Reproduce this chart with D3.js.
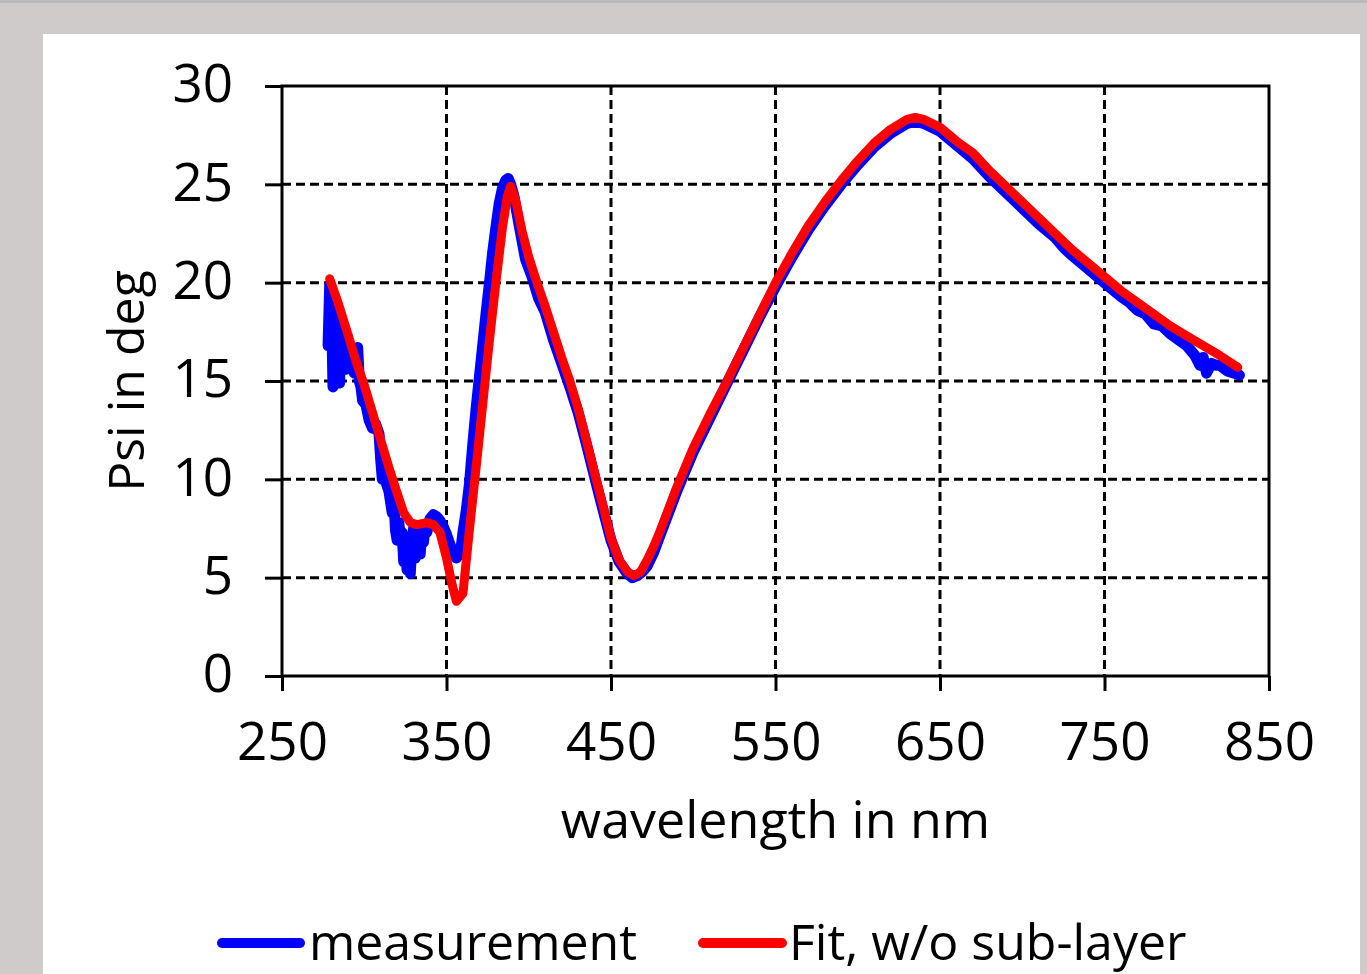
<!DOCTYPE html>
<html><head><meta charset="utf-8">
<script src="https://cdn.jsdelivr.net/npm/d3@7"></script>
<style>html,body{margin:0;padding:0;background:#cfcbca;}svg{display:block;}</style>
</head><body>
<svg id="c" width="1367" height="974"></svg>
<script>
// ---- data ----
const measWl = [278,279,279.5,280,281,282,283,284,285,286,287,288,289,290,291,292,293,294,295,296,297,298,299,301,303,305,307,309,310,311,312,313,315,317,318,319,320,321,322,323,324,325,326,327,328,329,330,331,332,333,334,335,336,337,338,340,342,344,346,348,350,352,354,356,358,359,360,362,364,366,368,370,372,374,376,378,380,382,384,386,387.5,389,391,394,398,402,406,410,415,420,425,430,435,441,445,450,455,460,463,466,469,472,476,480,485,490,495,500,510,520,530,540,550,560,570,580,590,600,610,620,630,635,640,650,660,670,680,690,700,710,720,725,730,740,750,760,765,770,775,780,785,790,795,800,805,808,810,812,815,818,820,825,829,832];
const measPsi = [16.8,19.9,17.9,19.2,14.7,18.0,18.6,15.5,14.9,18.1,16.0,17.2,15.6,16.5,16.7,15.8,16.3,15.4,16.4,16.7,15.0,14.7,14.0,13.8,13.0,12.6,12.8,12.3,11.0,10.0,10.6,9.9,9.4,8.3,9.0,7.4,6.9,7.8,7.0,7.3,5.8,7.0,5.4,6.6,5.2,6.9,7.5,6.0,6.3,7.2,6.2,7.3,6.8,7.6,7.3,8.0,8.2,8.1,7.9,7.6,7.2,6.7,6.3,6.0,6.2,6.6,7.3,8.4,9.8,11.8,13.6,15.2,16.8,18.4,19.9,21.5,22.8,24.0,24.8,25.2,25.3,25.0,24.4,23.0,21.2,20.3,19.2,18.5,17.1,15.9,14.7,13.4,11.8,9.8,8.5,6.9,5.8,5.2,5.0,5.1,5.3,5.6,6.3,7.2,8.3,9.4,10.4,11.4,13.1,14.8,16.5,18.2,19.8,21.3,22.7,23.9,25.0,26.0,26.9,27.6,28.1,28.2,28.1,27.7,27.0,26.3,25.4,24.6,23.8,23.0,22.3,21.8,21.4,20.7,20.0,19.3,19.0,18.6,18.4,17.9,17.8,17.4,17.1,16.8,16.3,15.8,16.2,15.4,15.9,15.8,15.8,15.5,15.4,15.3];
const fitWl = [279,284,290,295,300,305,310,315,320,324,328,332,338,342,346,350,353,356,360,364,368,372,376,380,384,387,389,392,396,400,405,410,415,420,425,430,435,441,445,450,455,460,464,468,472,476,480,490,500,510,520,530,540,550,560,570,580,590,600,610,620,630,635,640,650,660,670,680,690,700,710,720,730,740,750,760,770,780,790,800,810,820,831];
const fitPsi = [20.2,19.0,17.4,16.0,14.8,13.4,12.0,10.6,9.3,8.3,7.8,7.7,7.8,7.7,7.3,6.0,4.8,3.8,4.2,7.5,10.6,13.8,17.0,20.0,22.8,24.4,24.9,24.2,22.6,21.3,20.0,18.8,17.5,16.2,15.0,13.6,12.0,10.0,8.7,7.0,5.9,5.3,5.1,5.3,5.9,6.6,7.4,9.6,11.6,13.3,14.9,16.6,18.3,20.0,21.5,22.9,24.1,25.2,26.2,27.1,27.8,28.3,28.4,28.3,27.9,27.2,26.6,25.7,24.9,24.1,23.3,22.5,21.7,21.0,20.3,19.6,19.0,18.4,17.8,17.3,16.8,16.3,15.7];
const xTicks = [250,350,450,550,650,750,850];
const yTicks = [0,5,10,15,20,25,30];
const seriesNames = ["measurement","Fit, w/o sub-layer"];
const seriesColors = ["#0000ff","#ff0000"];

const svg = d3.select("#c");
const FONT = "'Open Sans', sans-serif";
// background
svg.append("rect").attr("x",0).attr("y",0).attr("width",1367).attr("height",974).attr("fill","#cfcbca");
svg.append("rect").attr("x",0).attr("y",0).attr("width",1367).attr("height",3).attr("fill","#b9babe");
svg.append("rect").attr("x",43).attr("y",34).attr("width",1317).attr("height",940).attr("fill","#ffffff");

const L=282,R=1269,T=86,B=676;
const x = d3.scaleLinear().domain([250,850]).range([L,R]);
const y = d3.scaleLinear().domain([0,30]).range([B,T]);

const g = svg.append("g");
// gridlines
g.selectAll(".vg").data(xTicks.slice(1,-1)).join("line")
 .attr("x1",d=>x(d)).attr("x2",d=>x(d)).attr("y1",T).attr("y2",B)
 .attr("stroke","#000").attr("stroke-width",3).attr("stroke-dasharray","9,5");
g.selectAll(".hg").data(yTicks.slice(1,-1)).join("line")
 .attr("y1",d=>y(d)).attr("y2",d=>y(d)).attr("x1",L).attr("x2",R)
 .attr("stroke","#000").attr("stroke-width",3).attr("stroke-dasharray","9,5");

// axes
const xAxis = d3.axisBottom(x).tickValues(xTicks).tickSize(15).tickPadding(31).tickFormat(d3.format("d"));
const yAxis = d3.axisLeft(y).tickValues(yTicks).tickSize(17).tickPadding(32).tickFormat(d3.format("d"));
const gx = svg.append("g").attr("transform",`translate(0,${B})`).call(xAxis);
const gy = svg.append("g").attr("transform",`translate(${L},0)`).call(yAxis);
[gx,gy].forEach(a=>{
  a.select(".domain").remove();
  a.selectAll(".tick line").attr("stroke","#000").attr("stroke-width",3);
  a.selectAll(".tick text").attr("fill","#000").style("font-family",FONT).style("font-size","53px");
});
gy.selectAll(".tick text").attr("dy","0.3em");
// frame
svg.append("rect").attr("x",L).attr("y",T).attr("width",R-L).attr("height",B-T)
 .attr("fill","none").attr("stroke","#000").attr("stroke-width",3);

// lines
const line = d3.line().x(d=>x(d[0])).y(d=>y(d[1]));
const meas = measWl.map((w,i)=>[w,measPsi[i]]);
const fit = fitWl.map((w,i)=>[w,fitPsi[i]]);
svg.append("path").datum(meas).attr("d",line).attr("fill","none")
 .attr("stroke",seriesColors[0]).attr("stroke-width",11).attr("stroke-linejoin","round").attr("stroke-linecap","round");
svg.append("path").datum(fit).attr("d",line).attr("fill","none")
 .attr("stroke",seriesColors[1]).attr("stroke-width",9).attr("stroke-linejoin","round").attr("stroke-linecap","round");

// titles
svg.append("text").attr("x",(L+R)/2).attr("y",838).attr("text-anchor","middle")
 .style("font-family",FONT).style("font-size","52px").attr("fill","#000").text("wavelength in nm");
svg.append("text").attr("transform",`translate(144,${(T+B)/2}) rotate(-90)`).attr("text-anchor","middle")
 .style("font-family",FONT).style("font-size","50px").attr("fill","#000").text("Psi in deg");

// legend
const leg = [{x1:222,x2:300,tx:309},{x1:703,x2:782,tx:789}];
leg.forEach((l,i)=>{
  svg.append("line").attr("x1",l.x1).attr("x2",l.x2).attr("y1",943).attr("y2",943)
   .attr("stroke",seriesColors[i]).attr("stroke-width",10).attr("stroke-linecap","round");
  svg.append("text").attr("x",l.tx).attr("y",960).style("font-family",FONT).style("font-size","50px")
   .attr("fill","#000").text(seriesNames[i]);
});
</script>
</body></html>
